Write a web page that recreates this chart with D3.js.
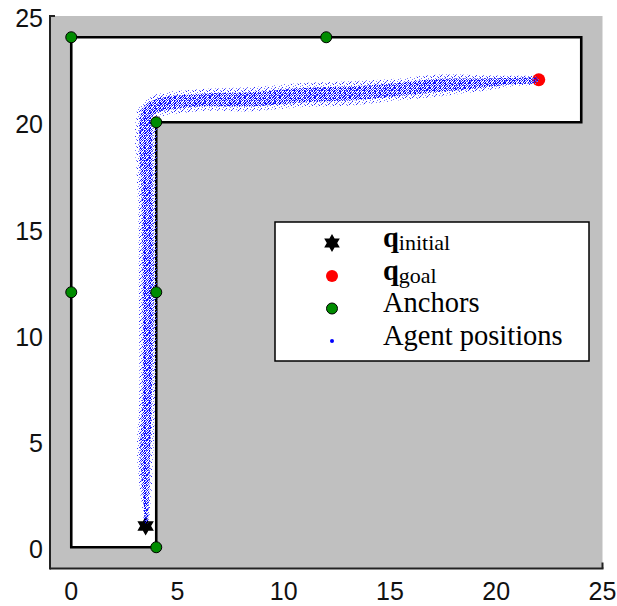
<!DOCTYPE html>
<html><head><meta charset="utf-8">
<script src="https://cdn.jsdelivr.net/npm/d3@7"></script>
<style>body{margin:0;background:#fff} svg{display:block}</style>
</head><body>
<svg id="chart" width="617" height="606"></svg>
<script>
// ---------- data ----------
const xTicks = [0, 5, 10, 15, 20, 25];
const yTicks = [0, 5, 10, 15, 20, 25];
const corridorX = [0, 4, 4, 24, 24, 0];
const corridorY = [0, 0, 20, 20, 24, 24];
const anchorX = [0, 12, 4, 0, 4, 4];
const anchorY = [24, 24, 20, 12, 12, 0];
const qInitial = [3.5, 1];
const qGoal = [22, 22];
// agent cloud: centre line and half-spread
const agentX = [3.53, 3.53, 3.48, 3.58, 3.62, 3.58, 3.53, 3.53, 3.62, 3.95, 6.07, 8.42, 10.78, 13.13, 15.48, 17.36, 19.25, 20.66, 21.98];
const agentY = [1.13, 1.88, 4.24, 7.39, 12.09, 16.33, 18.68, 19.86, 20.47, 20.75, 21.04, 21.08, 21.27, 21.36, 21.55, 21.74, 21.84, 21.93, 21.98];
const agentSpread = [0.05, 0.14, 0.28, 0.28, 0.33, 0.33, 0.38, 0.38, 0.38, 0.38, 0.38, 0.42, 0.42, 0.42, 0.38, 0.38, 0.28, 0.19, 0.09];
const legendLabels = [["q", "initial"], ["q", "goal"], ["Anchors", ""], ["Agent positions", ""]];

// ---------- setup ----------
const svg = d3.select("#chart");
const x = d3.scaleLinear().domain([-1, 25]).range([50, 602.5]);
const y = d3.scaleLinear().domain([-1, 25]).range([568.5, 16]);
const pxPerUnit = x(1) - x(0);

// patterns for the dot cloud
const defs = svg.append("defs");
const sparse = defs.append("pattern").attr("id", "sparse").attr("patternUnits", "userSpaceOnUse")
  .attr("width", 7).attr("height", 7);
[[1,1],[4,0],[6,2],[2,3],[5,4],[0,5],[3,6],[6,6],[1,4]].forEach(([a,b],i)=>
  sparse.append("rect").attr("x",a).attr("y",b).attr("width",1).attr("height",1)
    .attr("fill", i%2 ? "#2a2aff" : "#7a7aff"));
const dense = defs.append("pattern").attr("id", "dense").attr("patternUnits", "userSpaceOnUse")
  .attr("width", 5).attr("height", 5);
[[0,0],[2,0],[4,1],[1,1],[3,2],[0,2],[2,3],[4,3],[1,4],[3,4],[4,0],[0,3]].forEach(([a,b],i)=>
  dense.append("rect").attr("x",a).attr("y",b).attr("width",1).attr("height",1)
    .attr("fill", i%3===0 ? "#5555ff" : "#0000ff"));

// background
svg.append("rect").attr("x", x(-1)).attr("y", y(25))
  .attr("width", x(25) - x(-1)).attr("height", y(-1) - y(25)).attr("fill", "#c0c0c0");

// corridor
const corridor = corridorX.map((v, i) => [x(v), y(corridorY[i])]);
svg.append("path").attr("d", d3.line()(corridor) + "Z")
  .attr("fill", "#fff").attr("stroke", "#000").attr("stroke-width", 2.6).attr("stroke-linejoin", "miter");

// hexagram symbol
function hexagram(R) {
  const r = R / Math.sqrt(3), pts = [];
  for (let k = 0; k < 12; k++) {
    const a = -Math.PI / 2 + k * Math.PI / 6, rr = k % 2 ? r : R;
    pts.push([rr * Math.cos(a), rr * Math.sin(a)]);
  }
  return d3.line()(pts) + "Z";
}

// start and goal
svg.append("path").attr("d", hexagram(9.5)).attr("transform", `translate(${x(qInitial[0])},${y(qInitial[1])})`).attr("fill", "#000");
svg.append("circle").attr("cx", x(qGoal[0])).attr("cy", y(qGoal[1])).attr("r", 6.5).attr("fill", "#ff0000");

// agent cloud band
function band(scale) {
  const P = agentX.map((v, i) => [x(v), y(agentY[i])]);
  const left = [], right = [];
  P.forEach((p, i) => {
    const a = P[Math.max(0, i - 1)], b = P[Math.min(P.length - 1, i + 1)];
    let dx = b[0] - a[0], dy = b[1] - a[1];
    const L = Math.hypot(dx, dy) || 1; dx /= L; dy /= L;
    const h = agentSpread[i] * pxPerUnit * scale;
    left.push([p[0] - dy * h, p[1] + dx * h]);
    right.push([p[0] + dy * h, p[1] - dx * h]);
  });
  return d3.line().curve(d3.curveCatmullRomClosed)(left.concat(right.reverse()));
}
svg.append("path").attr("d", band(1.35)).attr("fill", "url(#sparse)");
svg.append("path").attr("d", band(0.8)).attr("fill", "url(#dense)");

// anchors
svg.selectAll("circle.anchor").data(anchorX).enter().append("circle").attr("class", "anchor")
  .attr("cx", d => x(d)).attr("cy", (d, i) => y(anchorY[i])).attr("r", 5.5)
  .attr("fill", "#008c00").attr("stroke", "#000").attr("stroke-width", 1);

// axes
svg.append("line").attr("x1", x(-1)).attr("x2", x(-1)).attr("y1", y(25) - 1).attr("y2", y(-1) + 1)
  .attr("stroke", "#222").attr("stroke-width", 2);
svg.append("line").attr("x1", x(-1)).attr("x2", x(25) + 1).attr("y1", y(-1)).attr("y2", y(-1))
  .attr("stroke", "#222").attr("stroke-width", 2);
svg.append("line").attr("x1", x(-1)).attr("x2", x(-1) + 5).attr("y1", y(25)).attr("y2", y(25)).attr("stroke", "#222").attr("stroke-width", 2);
svg.append("line").attr("x1", x(25)).attr("x2", x(25)).attr("y1", y(-1)).attr("y2", y(-1) - 6).attr("stroke", "#222").attr("stroke-width", 2);

svg.selectAll("text.xt").data(xTicks).enter().append("text").attr("class", "xt")
  .attr("x", d => x(d)).attr("y", 600).attr("text-anchor", "middle")
  .attr("font-family", "Liberation Sans, Arial, sans-serif").attr("font-size", 25).attr("fill", "#111").text(d => d);
svg.selectAll("text.yt").data(yTicks).enter().append("text").attr("class", "yt")
  .attr("x", 43).attr("y", d => y(d) + 11).attr("text-anchor", "end")
  .attr("font-family", "Liberation Sans, Arial, sans-serif").attr("font-size", 25).attr("fill", "#111").text(d => d);

// legend
const lg = svg.append("g");
lg.append("rect").attr("x", 275).attr("y", 222).attr("width", 314).attr("height", 139)
  .attr("fill", "#fff").attr("stroke", "#000").attr("stroke-width", 1.5);
const rows = [243, 276, 308.5, 341];
lg.append("path").attr("d", hexagram(9)).attr("transform", `translate(332,${rows[0]})`).attr("fill", "#000");
lg.append("circle").attr("cx", 332).attr("cy", rows[1]).attr("r", 6).attr("fill", "#ff0000");
lg.append("circle").attr("cx", 332).attr("cy", rows[2]).attr("r", 5.5).attr("fill", "#008c00").attr("stroke", "#000");
lg.append("circle").attr("cx", 332).attr("cy", rows[3]).attr("r", 2).attr("fill", "#0000ff");
legendLabels.forEach((lab, i) => {
  const t = lg.append("text").attr("x", 383).attr("y", rows[i] + 3.5)
    .attr("font-family", "Liberation Serif, Times New Roman, serif").attr("font-size", 28.5).attr("fill", "#000");
  if (lab[1]) {
    t.append("tspan").attr("font-weight", "bold").text(lab[0]);
    t.append("tspan").attr("font-size", 22).attr("dy", 3).text(lab[1]);
  } else {
    t.text(lab[0]);
  }
});
</script>
</body></html>
